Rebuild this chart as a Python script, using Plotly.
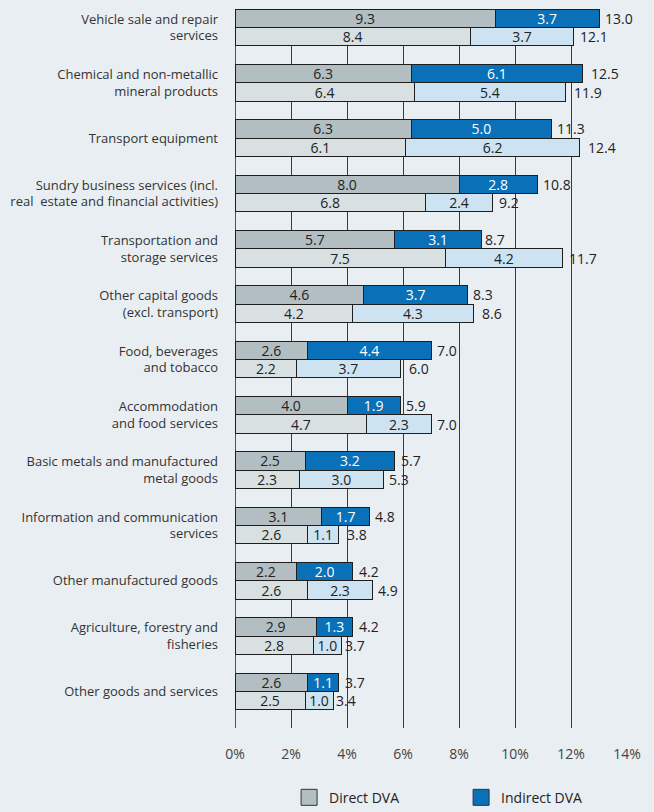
import plotly.graph_objects as go

categories = [
    "Vehicle sale and repair<br>services",
    "Chemical and non-metallic<br>mineral products",
    "Transport equipment",
    "Sundry business services (incl.<br>real  estate and financial activities)",
    "Transportation and<br>storage services",
    "Other capital goods<br>(excl. transport)",
    "Food, beverages<br>and tobacco",
    "Accommodation<br>and food services",
    "Basic metals and manufactured<br>metal goods",
    "Information and communication<br>services",
    "Other manufactured goods",
    "Agriculture, forestry and<br>fisheries",
    "Other goods and services",
]
direct_a = [9.3, 6.3, 6.3, 8.0, 5.7, 4.6, 2.6, 4.0, 2.5, 3.1, 2.2, 2.9, 2.6]
indirect_a = [3.7, 6.1, 5.0, 2.8, 3.1, 3.7, 4.4, 1.9, 3.2, 1.7, 2.0, 1.3, 1.1]
total_a = [13.0, 12.5, 11.3, 10.8, 8.7, 8.3, 7.0, 5.9, 5.7, 4.8, 4.2, 4.2, 3.7]
direct_b = [8.4, 6.4, 6.1, 6.8, 7.5, 4.2, 2.2, 4.7, 2.3, 2.6, 2.6, 2.8, 2.5]
indirect_b = [3.7, 5.4, 6.2, 2.4, 4.2, 4.3, 3.7, 2.3, 3.0, 1.1, 2.3, 1.0, 1.0]
total_b = [12.1, 11.9, 12.4, 9.2, 11.7, 8.6, 6.0, 7.0, 5.3, 3.8, 4.9, 3.7, 3.4]
x_ticks = [0, 2, 4, 6, 8, 10, 12, 14]

FONT = "Open Sans, Liberation Sans, sans-serif"
BG = "#e9eef3"
OUT = "#1e1e1e"
C_DIR_A = "#b3bec2"
C_IND_A = "#0a71b8"
C_DIR_B = "#d8e0e2"
C_IND_B = "#cde3f1"

n = len(categories)
bw = 0.334
pos = list(range(n))
pos_a = [p - bw / 2 for p in pos]
pos_b = [p + bw / 2 for p in pos]

def fmt(v):
    return f"{v:.1f}"

fig = go.Figure()

def bar(x, y, color, tcolor, name):
    fig.add_trace(go.Bar(
        x=x, y=y, orientation="h", width=bw,
        marker=dict(color=color, line=dict(color=OUT, width=1)),
        text=[fmt(v) for v in x], textposition="inside", insidetextanchor="middle",
        textangle=0,
        textfont=dict(color=tcolor, size=14, family=FONT),
        constraintext="none",
        name=name, showlegend=False, hoverinfo="skip",
    ))

bar(direct_a, pos_a, C_DIR_A, "#222222", "Direct DVA")
bar(indirect_a, pos_a, C_IND_A, "#ffffff", "Indirect DVA")
bar(direct_b, pos_b, C_DIR_B, "#222222", "Direct DVA")
bar(indirect_b, pos_b, C_IND_B, "#222222", "Indirect DVA")

for tv, pv in zip(total_a + total_b, pos_a + pos_b):
    fig.add_annotation(x=tv, y=pv, xref="x", yref="y", text=fmt(tv),
                       showarrow=False, xanchor="left", yanchor="middle", xshift=4,
                       font=dict(color="#222222", size=14, family=FONT))

for name, col in [("Direct DVA", C_DIR_A), ("Indirect DVA", C_IND_A)]:
    fig.add_trace(go.Scatter(
        x=[None], y=[None], mode="markers", name=name,
        marker=dict(symbol="square", size=16, color=col, line=dict(color="#333333", width=1)),
    ))

fig.update_layout(
    width=654, height=812,
    barmode="stack",
    paper_bgcolor=BG, plot_bgcolor=BG,
    margin=dict(l=235, r=27, t=9, b=84, autoexpand=False),
    font=dict(family=FONT, size=13, color="#333333"),
    showlegend=True,
    legend=dict(orientation="h", traceorder="normal", x=0.138, xanchor="left", y=-0.097, yanchor="middle",
                entrywidth=127, font=dict(size=14, color="#222222"), bgcolor="rgba(0,0,0,0)"),
    xaxis=dict(range=[0, 14], tickvals=x_ticks, ticktext=[f"{t}%" for t in x_ticks],
               showgrid=True, gridcolor="#3a3a3a", gridwidth=1.2, zeroline=False,
               showline=False, ticks="", ticklabelstandoff=16,
               tickfont=dict(size=14, color="#444444"), fixedrange=True),
    yaxis=dict(range=[12.66, -0.334], tickvals=pos, ticktext=categories,
               showgrid=False, zeroline=False, showline=False, ticks="",
               ticklabelstandoff=16, tickfont=dict(size=13, color="#333333"), fixedrange=True),
)
fig.add_shape(type="line", xref="x", yref="paper", x0=0, x1=0, y0=0, y1=1,
              line=dict(color="#1e1e1e", width=1.5), layer="below")

fig.write_html("out.html")
